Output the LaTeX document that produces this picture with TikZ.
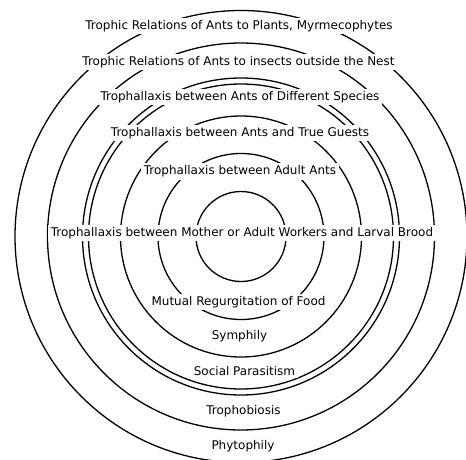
\documentclass[tikz,border=0pt]{standalone}
\usepackage{fontspec}
\newfontfamily\ringfont{DejaVu Sans}
\tikzset{
	ring/.style={line width=1.3pt},
	ringlabel/.style={fill=white, inner sep=2.5pt, font=\ringfont\fontsize{12}{14}\selectfont},
}
\begin{document}
\begin{tikzpicture}[x=1pt,y=1pt]
		\useasboundingbox (0,0) rectangle (466,459);
		\coordinate (c) at (241,222.5);
		%%%
		\draw[ring] (c) circle (45pt);
		\draw[ring] (c) circle (83pt);
		\draw[ring] (c) circle (120.5pt);
		\draw[ring] (c) circle (152.5pt);
		\draw[ring] (c) circle (158.5pt);
		\draw[ring] (c) circle (193.5pt);
		\draw[ring] (c) circle (226pt);
		%%%
		\node[ringlabel] (plants) at (239,433) {Trophic Relations of Ants to Plants, Myrmecophytes};
		\node[ringlabel] (insects) at (238.5,397) {Trophic Relations of Ants to insects outside the Nest};
		\node[ringlabel] (species) at (240,362) {Trophallaxis between Ants of Different Species};
		\node[ringlabel] (guests) at (240,326) {Trophallaxis between Ants and True Guests};
		\node[ringlabel] (adults) at (240,287.5) {Trophallaxis between Adult Ants};
		%%%
		\node[ringlabel] (brood) at (242,226) {Trophallaxis between Mother or Adult Workers and Larval Brood};
		%%%
		\node[ringlabel] (food) at (238.5,157) {Mutual Regurgitation of Food};
		\node[ringlabel] (symphily) at (239.5,123) {Symphily};
		\node[ringlabel] (parasitism) at (244.5,88) {Social Parasitism};
		\node[ringlabel] (trophobiosis) at (243.5,48) {Trophobiosis};
		\node[ringlabel] (phytophily) at (243,13) {Phytophily};
	\end{tikzpicture}
\end{document}
